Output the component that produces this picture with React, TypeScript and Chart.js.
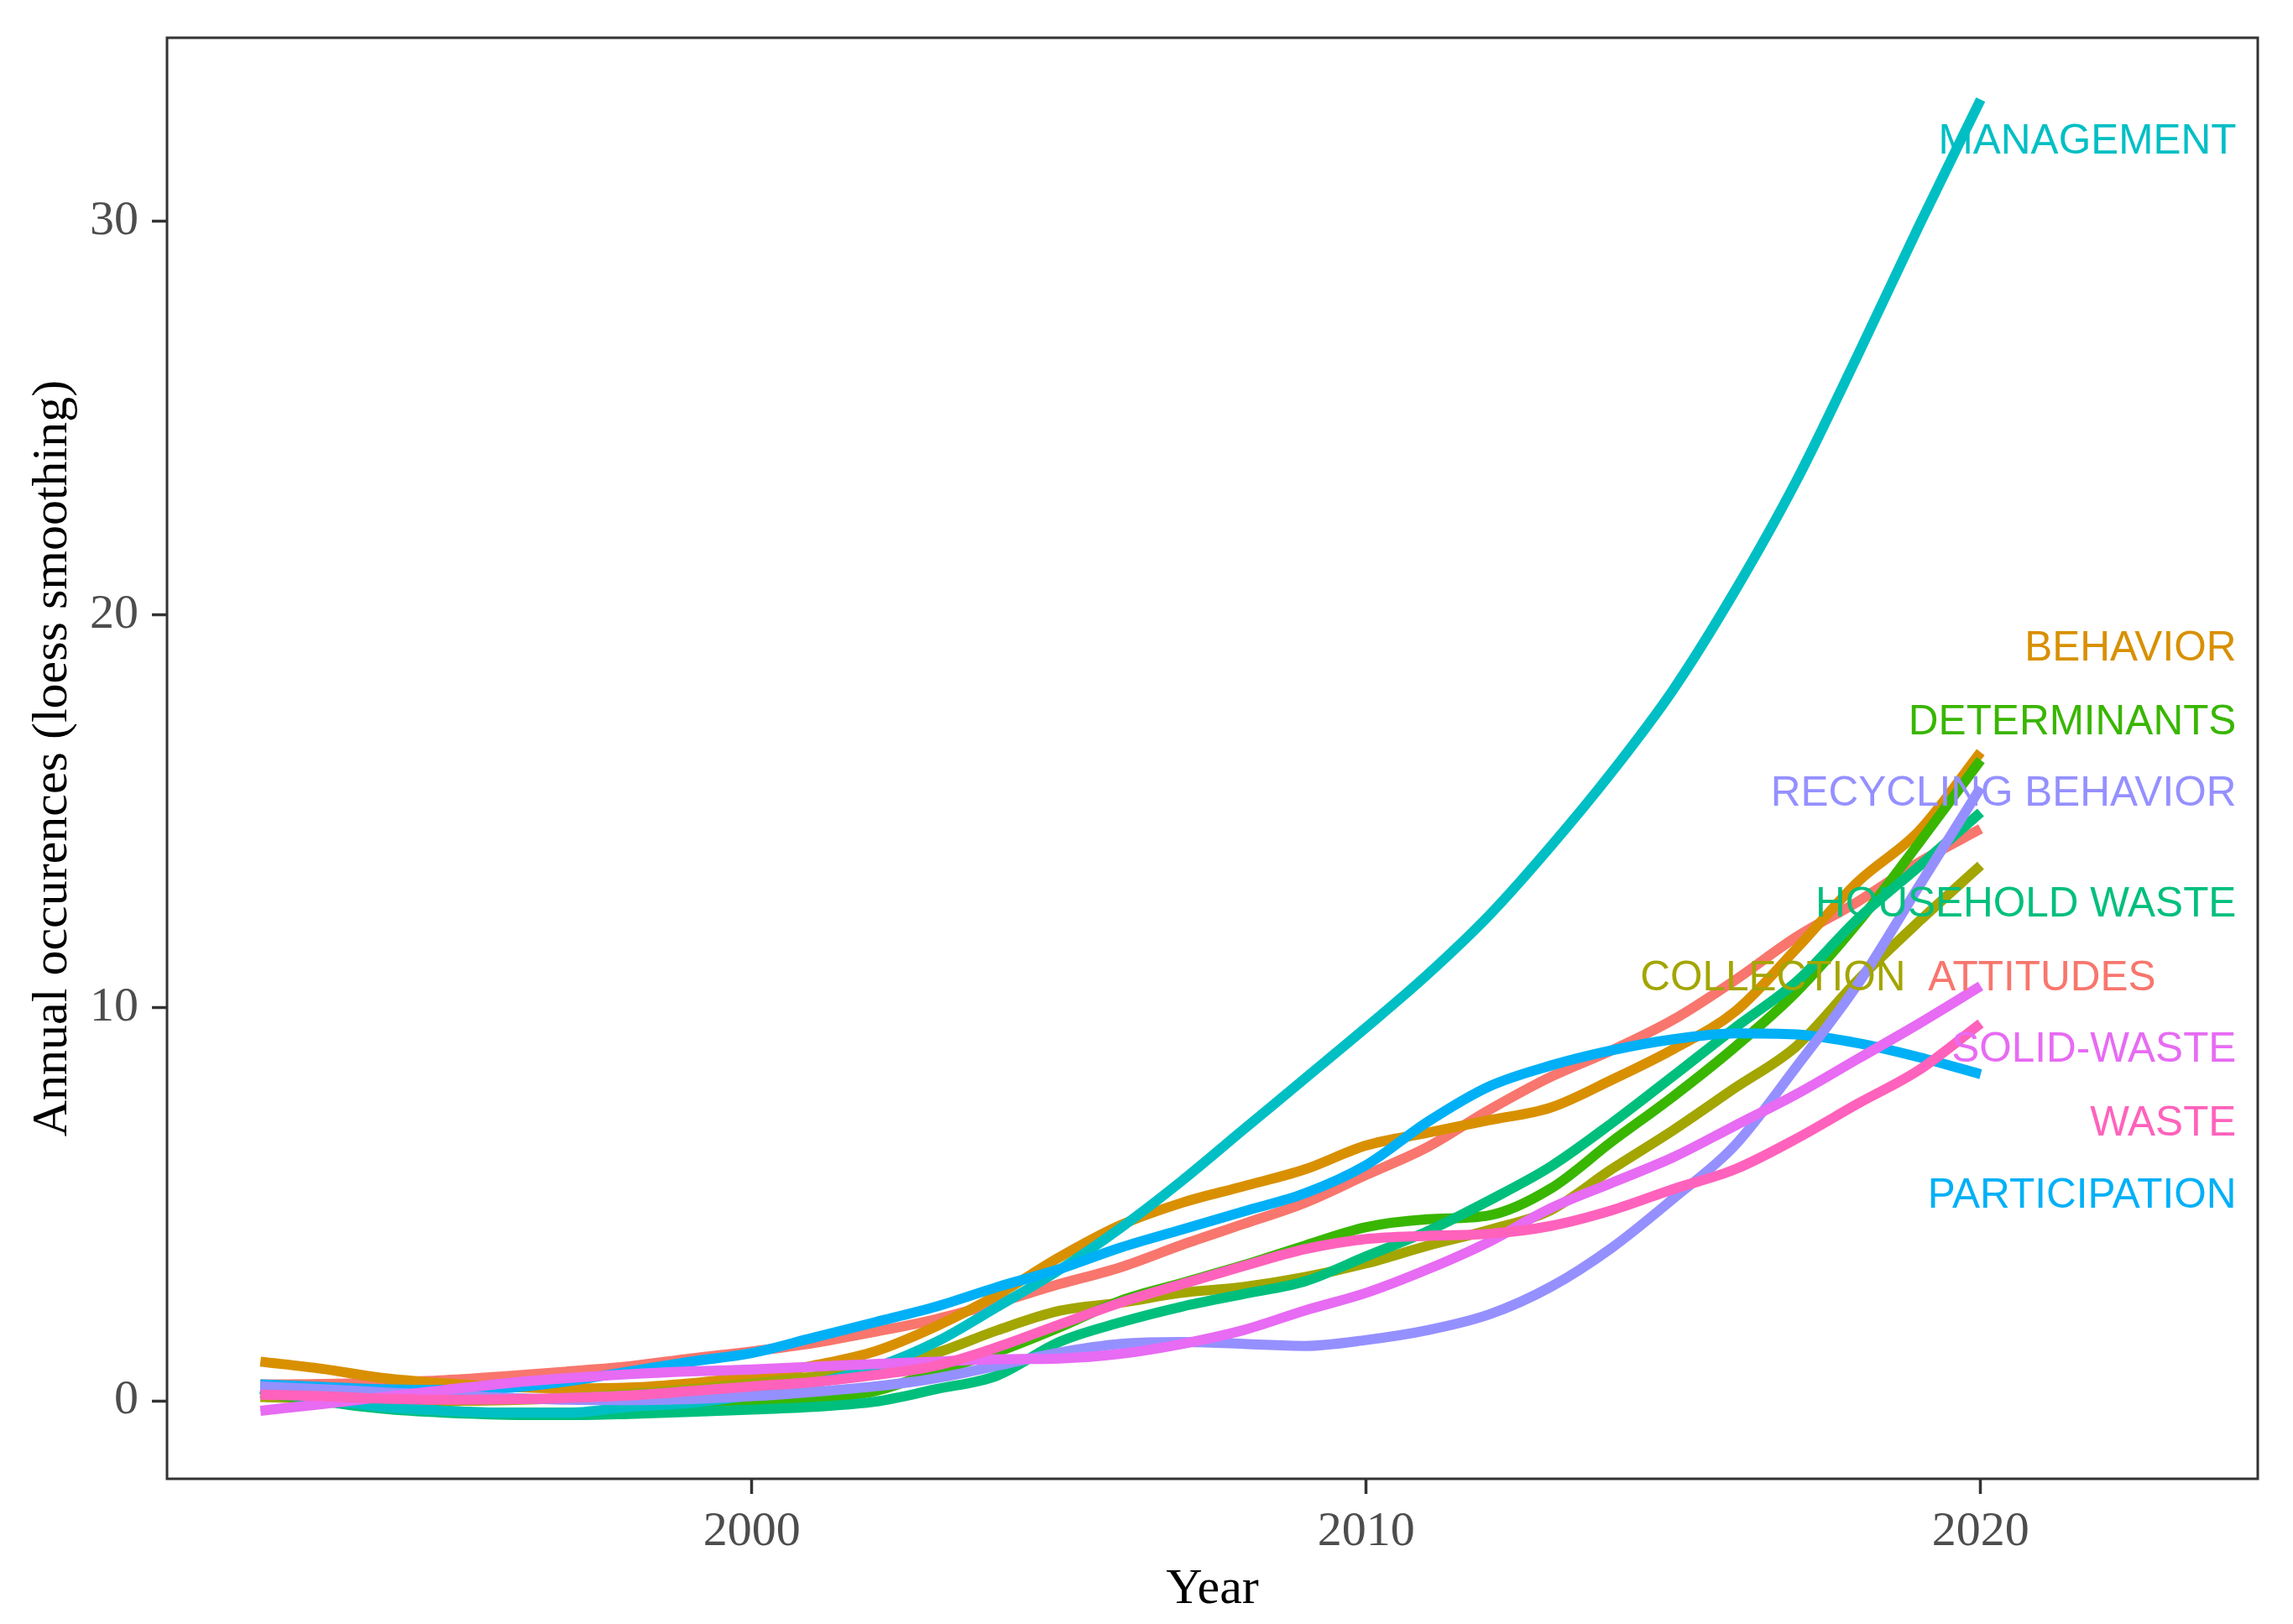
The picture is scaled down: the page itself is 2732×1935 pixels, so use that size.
import { useEffect, useRef } from "react";
import { Chart, registerables } from "chart.js";

Chart.register(...registerables);

// ---- data ----
const years = [
  1992, 1993, 1994, 1995, 1996, 1997, 1998, 1999, 2000, 2001, 2002, 2003, 2004, 2005,
  2006, 2007, 2008, 2009, 2010, 2011, 2012, 2013, 2014, 2015, 2016, 2017, 2018, 2019, 2020,
];

const categories = [
  "ATTITUDES",
  "BEHAVIOR",
  "COLLECTION",
  "DETERMINANTS",
  "HOUSEHOLD WASTE",
  "MANAGEMENT",
  "PARTICIPATION",
  "RECYCLING BEHAVIOR",
  "SOLID-WASTE",
  "WASTE",
];

const colors = [
  "#F8766D", "#D89000", "#A3A500", "#39B600", "#00BF7D",
  "#00BFC4", "#00B0F6", "#9590FF", "#E76BF3", "#FF62BC",
];

const attitudes = [0.42, 0.43, 0.47, 0.53, 0.63, 0.75, 0.88, 1.08, 1.26, 1.47, 1.76, 2.08, 2.5, 2.97, 3.4, 3.97, 4.5, 5.04, 5.75, 6.46, 7.4, 8.24, 8.92, 9.7, 10.7, 11.8, 12.7, 13.7, 14.55];
const behavior = [1.0, 0.82, 0.58, 0.45, 0.36, 0.32, 0.34, 0.45, 0.62, 0.9, 1.26, 1.9, 2.7, 3.65, 4.47, 5.04, 5.46, 5.89, 6.5, 6.82, 7.14, 7.46, 8.17, 8.95, 9.9, 11.5, 13.2, 14.5, 16.5];
const collection = [0.1, 0.05, 0.02, 0.0, 0.02, 0.08, 0.18, 0.3, 0.45, 0.62, 0.85, 1.22, 1.8, 2.29, 2.5, 2.75, 2.9, 3.15, 3.5, 3.95, 4.35, 4.85, 5.9, 6.89, 7.96, 9.02, 10.7, 12.2, 13.62];
const determinants = [0.2, 0.0, -0.15, -0.25, -0.3, -0.3, -0.25, -0.15, -0.05, 0.05, 0.25, 0.75, 1.25, 1.87, 2.55, 3.0, 3.45, 3.95, 4.42, 4.62, 4.72, 5.4, 6.6, 7.75, 9.0, 10.4, 12.16, 14.2, 16.3];
const householdWaste = [0.3, 0.0, -0.2, -0.3, -0.35, -0.36, -0.33, -0.28, -0.22, -0.15, -0.02, 0.3, 0.65, 1.5, 2.0, 2.4, 2.72, 3.04, 3.68, 4.32, 5.1, 5.96, 7.07, 8.27, 9.49, 10.66, 12.26, 13.6, 14.97];
const management = [0.3, 0.05, -0.15, -0.25, -0.3, -0.3, -0.15, -0.05, 0.15, 0.45, 0.85, 1.5, 2.4, 3.33, 4.4, 5.6, 6.9, 8.2, 9.5, 10.85, 12.35, 14.1, 16.0, 18.1, 20.6, 23.4, 26.6, 29.9, 33.1];
const participation = [0.42, 0.36, 0.3, 0.28, 0.33, 0.5, 0.75, 1.0, 1.22, 1.61, 2.0, 2.4, 2.9, 3.35, 3.9, 4.36, 4.82, 5.28, 6.0, 7.1, 8.0, 8.53, 8.92, 9.2, 9.35, 9.32, 9.1, 8.74, 8.31];
const recyclingBehavior = [0.37, 0.3, 0.22, 0.15, 0.08, 0.03, 0.02, 0.05, 0.12, 0.23, 0.37, 0.58, 0.9, 1.23, 1.45, 1.5, 1.45, 1.4, 1.55, 1.8, 2.2, 2.9, 3.9, 5.15, 6.5, 8.5, 10.6, 13.1, 15.6];
const solidWaste = [-0.25, -0.08, 0.1, 0.28, 0.45, 0.58, 0.68, 0.75, 0.8, 0.87, 0.94, 1.0, 1.06, 1.08, 1.2, 1.45, 1.8, 2.3, 2.75, 3.35, 4.05, 4.9, 5.55, 6.2, 7.0, 7.8, 8.7, 9.6, 10.55];
const waste = [0.16, 0.12, 0.06, 0.03, 0.04, 0.08, 0.14, 0.25, 0.37, 0.48, 0.66, 0.9, 1.37, 1.94, 2.5, 2.97, 3.43, 3.86, 4.12, 4.2, 4.25, 4.45, 4.85, 5.39, 5.89, 6.67, 7.56, 8.42, 9.6];

const seriesValues = [
  attitudes, behavior, collection, determinants, householdWaste,
  management, participation, recyclingBehavior, solidWaste, waste,
];

// label anchor positions (right edge x in years, centre y in values)
const labelX = [2022.85, 2024.16, 2018.78, 2024.16, 2024.16, 2024.16, 2024.16, 2024.16, 2024.16, 2024.16];
const labelY = [10.73, 19.13, 10.73, 17.24, 12.62, 32.02, 5.21, 15.44, 8.91, 7.05];

const xTicks = [2000, 2010, 2020];
const yTicks = [0, 10, 20, 30];
const xMin = 1990.48;
const xMax = 2024.51;
const yMin = -1.98;
const yMax = 34.67;

const SERIF = '"Liberation Serif", "Times New Roman", serif';
const SANS = '"Liberation Sans", Arial, sans-serif';

const labelsAndFrame = {
  id: "labelsAndFrame",
  afterDatasetsDraw(chart: any) {
    const { ctx, chartArea: a, scales } = chart;
    ctx.save();
    ctx.font = `49.5px ${SANS}`;
    ctx.textAlign = "right";
    ctx.textBaseline = "middle";
    categories.forEach((c, i) => {
      ctx.fillStyle = colors[i];
      ctx.fillText(c, scales.x.getPixelForValue(labelX[i]), scales.y.getPixelForValue(labelY[i]));
    });
    ctx.strokeStyle = "#333333";
    ctx.lineWidth = 3;
    ctx.strokeRect(a.left, a.top, a.right - a.left, a.bottom - a.top);
    ctx.restore();
  },
};

export default function App() {
  const ref = useRef<HTMLCanvasElement | null>(null);

  useEffect(() => {
    document.body.style.margin = "0";
    const canvas = ref.current;
    if (!canvas) return;
    const n = categories.length;
    const datasets = categories.map((c, i) => ({
      label: c,
      data: years.map((y, j) => ({ x: y, y: seriesValues[i][j] })),
      borderColor: colors[i],
      backgroundColor: colors[i],
      borderWidth: 12,
      pointRadius: 0,
      fill: false,
      cubicInterpolationMode: "monotone" as const,
      borderCapStyle: "butt" as const,
      order: n - i,
    }));

    const chart = new Chart(canvas, {
      type: "line",
      data: { datasets },
      options: {
        animation: false,
        responsive: false,
        devicePixelRatio: 1,
        layout: { padding: { top: 43, right: 42, left: 0, bottom: 0 } },
        plugins: { legend: { display: false }, tooltip: { enabled: false } },
        scales: {
          x: {
            type: "linear",
            min: xMin,
            max: xMax,
            afterBuildTicks: (s: any) => {
              s.ticks = xTicks.map((v) => ({ value: v }));
            },
            afterFit: (s: any) => {
              s.height = 173;
            },
            grid: {
              display: true,
              drawOnChartArea: false,
              drawTicks: true,
              tickLength: 18,
              tickWidth: 3.5,
              tickColor: "#333333",
              color: "#333333",
            },
            border: { display: false },
            ticks: {
              color: "#4D4D4D",
              font: { family: SERIF, size: 58, lineHeight: 1 },
              padding: 17,
              maxRotation: 0,
              autoSkip: false,
              callback: (v: any) => String(v),
            },
            title: {
              display: true,
              text: "Year",
              color: "#000000",
              font: { family: SERIF, size: 60, lineHeight: 1 },
              padding: { top: 0, bottom: 11 },
            },
          },
          y: {
            type: "linear",
            min: yMin,
            max: yMax,
            afterBuildTicks: (s: any) => {
              s.ticks = yTicks.map((v) => ({ value: v }));
            },
            afterFit: (s: any) => {
              s.width = 199;
            },
            grid: {
              display: true,
              drawOnChartArea: false,
              drawTicks: true,
              tickLength: 18,
              tickWidth: 3.5,
              tickColor: "#333333",
              color: "#333333",
            },
            border: { display: false },
            ticks: {
              color: "#4D4D4D",
              font: { family: SERIF, size: 58, lineHeight: 1 },
              padding: 16,
              autoSkip: false,
              callback: (v: any) => String(v),
            },
            title: {
              display: true,
              text: "Annual occurences (loess smoothing)",
              color: "#000000",
              font: { family: SERIF, size: 60, lineHeight: 1 },
              padding: { top: 33, bottom: 0 },
            },
          },
        },
      },
      plugins: [labelsAndFrame],
    });
    return () => chart.destroy();
  }, []);

  return (
    <div style={{ position: "absolute", left: 0, top: 0, width: 2732, height: 1935, background: "#ffffff" }}>
      <canvas ref={ref} width={2732} height={1935} style={{ display: "block", width: 2732, height: 1935 }} />
    </div>
  );
}
